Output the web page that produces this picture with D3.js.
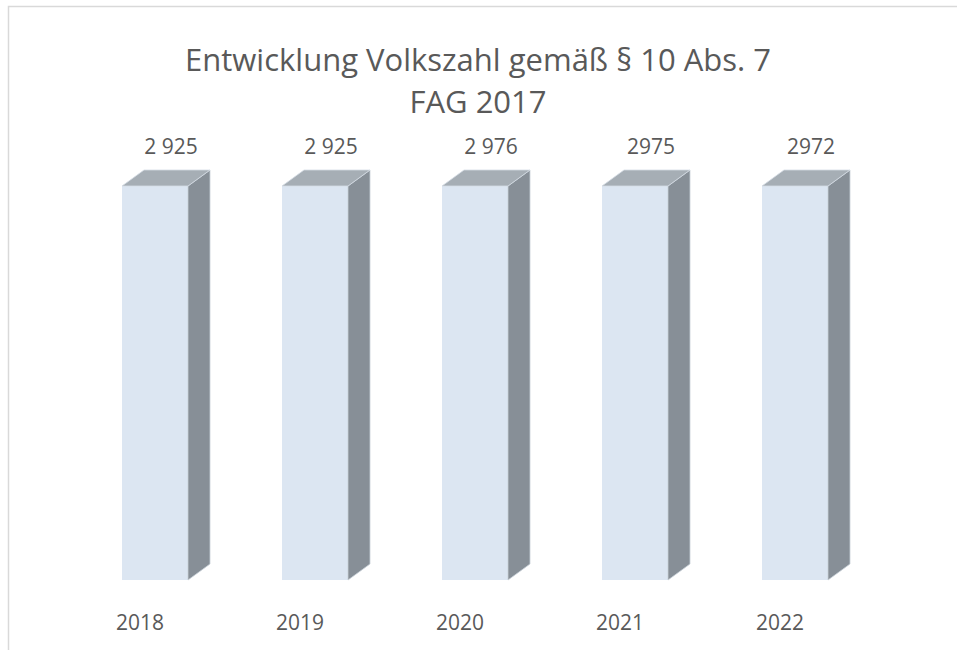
<!DOCTYPE html>
<html>
<head>
<meta charset="utf-8">
<script src="https://cdn.jsdelivr.net/npm/d3@7"></script>
<style>
  body { margin: 0; background: #fff; }
  text { font-family: "Open Sans", sans-serif; fill: #595959; }
</style>
</head>
<body>
<div id="chart"></div>
<script>
// data
var years = ["2018", "2019", "2020", "2021", "2022"];
var valueLabels = ["2 925", "2 925", "2 976", "2975", "2972"];
// column heights as drawn (every column is drawn at the same height)
var columnHeights = [100, 100, 100, 100, 100];
var titleLines = ["Entwicklung Volkszahl gemäß § 10 Abs. 7", "FAG 2017"];

var width = 957, height = 650;
var depth = {dx: 22, dy: -16};

var svg = d3.select("#chart")
  .append("svg")
  .attr("width", width)
  .attr("height", height);

// chart frame (cut off on the right and bottom)
svg.append("rect")
  .attr("x", 8.5)
  .attr("y", 6.5)
  .attr("width", 1000)
  .attr("height", 1000)
  .attr("fill", "none")
  .attr("stroke", "#d9d9d9")
  .attr("stroke-width", 1.5);

// title
svg.append("text")
  .attr("x", 478)
  .attr("y", 71)
  .attr("text-anchor", "middle")
  .style("font-size", "31px")
  .selectAll("tspan")
  .data(titleLines)
  .enter()
  .append("tspan")
  .attr("x", 478)
  .attr("dy", (d, i) => i == 0 ? 0 : 42)
  .text(d => d);

var x = d3.scaleBand()
  .domain(years)
  .range([28, 922])
  .paddingInner(0.5875)
  .paddingOuter(0.5875);

var y = d3.scaleLinear()
  .domain([0, 100])
  .range([580, 186]);

var bw = x.bandwidth();

var cols = svg.selectAll(".col")
  .data(years)
  .enter()
  .append("g")
  .attr("class", "col");

// front face
cols.append("rect")
  .attr("x", d => x(d))
  .attr("y", (d, i) => y(columnHeights[i]))
  .attr("width", bw)
  .attr("height", (d, i) => y(0) - y(columnHeights[i]))
  .attr("fill", "#dce6f2");

// side face
cols.append("path")
  .attr("d", (d, i) => {
    var x1 = x(d) + bw, yt = y(columnHeights[i]), yb = y(0);
    return "M" + x1 + "," + yt +
      "L" + (x1 + depth.dx) + "," + (yt + depth.dy) +
      "L" + (x1 + depth.dx) + "," + (yb + depth.dy) +
      "L" + x1 + "," + yb + "Z";
  })
  .attr("fill", "#878f97")
  .attr("stroke", "#c8d0d8")
  .attr("stroke-width", 0.8);

// top face
cols.append("path")
  .attr("d", (d, i) => {
    var x0 = x(d), yt = y(columnHeights[i]);
    return "M" + x0 + "," + yt +
      "L" + (x0 + depth.dx) + "," + (yt + depth.dy) +
      "L" + (x0 + bw + depth.dx) + "," + (yt + depth.dy) +
      "L" + (x0 + bw) + "," + yt + "Z";
  })
  .attr("fill", "#a6aeb5")
  .attr("stroke", "#d4dce4")
  .attr("stroke-width", 0.8);

// value labels
svg.selectAll(".vlab")
  .data(valueLabels)
  .enter()
  .append("text")
  .attr("class", "vlab")
  .attr("x", (d, i) => x(years[i]) + bw / 2 + 16)
  .attr("y", (d, i) => y(columnHeights[i]) - 32)
  .attr("text-anchor", "middle")
  .style("font-size", "21px")
  .text(d => d);

// category labels
svg.selectAll(".xlab")
  .data(years)
  .enter()
  .append("text")
  .attr("class", "xlab")
  .attr("x", d => x(d) + bw / 2 - 15)
  .attr("y", 630)
  .attr("text-anchor", "middle")
  .style("font-size", "21px")
  .text(d => d);
</script>
</body>
</html>
